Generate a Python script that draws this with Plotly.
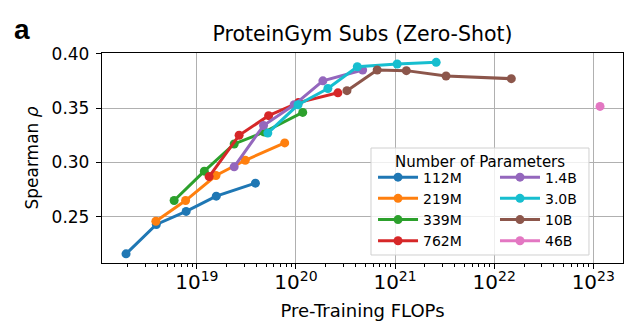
import plotly.graph_objects as go

# Pre-training compute (FLOPs) and zero-shot Spearman rho per model size
flops_112m = [1.93e18, 3.9e18, 7.8e18, 1.57e19, 3.9e19]
rho_112m = [0.216, 0.243, 0.255, 0.269, 0.281]

flops_219m = [3.86e18, 7.7e18, 1.56e19, 3.08e19, 7.7e19]
rho_219m = [0.246, 0.265, 0.288, 0.302, 0.318]

flops_339m = [5.9e18, 1.19e19, 2.38e19, 4.8e19, 1.17e20]
rho_339m = [0.265, 0.292, 0.317, 0.328, 0.346]

flops_762m = [1.33e19, 2.67e19, 5.3e19, 1.06e20, 2.65e20]
rho_762m = [0.287, 0.325, 0.343, 0.355, 0.364]

flops_1_4b = [2.38e19, 4.71e19, 9.6e19, 1.87e20, 4.71e20]
rho_1_4b = [0.296, 0.334, 0.353, 0.375, 0.385]

flops_3_0b = [5.2e19, 1.05e20, 2.1e20, 4.16e20, 1.05e21, 2.6e21]
rho_3_0b = [0.327, 0.353, 0.368, 0.388, 0.3905, 0.392]

flops_10b = [3.27e20, 6.6e20, 1.3e21, 3.27e21, 1.49e22]
rho_10b = [0.366, 0.385, 0.3844, 0.3795, 0.377]

flops_46b = [1.17e23]
rho_46b = [0.3515]

size_labels = ["112M", "219M", "339M", "762M", "1.4B", "3.0B", "10B", "46B"]
size_colors = ["#1f77b4", "#ff7f0e", "#2ca02c", "#d62728",
               "#9467bd", "#17becf", "#8c564b", "#e377c2"]
series = [
    (flops_112m, rho_112m), (flops_219m, rho_219m),
    (flops_339m, rho_339m), (flops_762m, rho_762m),
    (flops_1_4b, rho_1_4b), (flops_3_0b, rho_3_0b),
    (flops_10b, rho_10b), (flops_46b, rho_46b),
]

FONT = "DejaVu Sans"

fig = go.Figure()
for i, ((xs, ys), name, color) in enumerate(zip(series, size_labels, size_colors)):
    fig.add_trace(go.Scatter(
        x=xs, y=ys, name=name, mode="lines+markers",
        line=dict(color=color, width=3),
        marker=dict(color=color, size=9),
        legend="legend" if i < 4 else "legend2",
    ))

legend_style = dict(
    bgcolor="rgba(0,0,0,0)", borderwidth=0,
    font=dict(family=FONT, size=14, color="black"),
    xanchor="left", yanchor="top", itemwidth=40,
    tracegroupgap=0,
)

fig.update_layout(
    width=642, height=330,
    margin=dict(l=102, r=19, t=53, b=67, autoexpand=False),
    paper_bgcolor="white", plot_bgcolor="white",
    font=dict(family=FONT, color="black"),
    title=dict(
        text="ProteinGym Subs (Zero-Shot)",
        font=dict(family=FONT, size=20.5, color="black"),
        x=0.5, xref="paper", xanchor="center",
        y=1 - 34 / 330, yref="container", yanchor="middle",
    ),
    legend=dict(x=0.5202, y=0.483, **legend_style),
    legend2=dict(x=0.7543, y=0.483, **legend_style),
    xaxis=dict(
        type="log", range=[18.043, 23.30], automargin=False,
        dtick=1, exponentformat="power", showexponent="all",
        showgrid=True, gridcolor="#b0b0b0", gridwidth=1,
        showline=True, linecolor="black", linewidth=1.3, mirror=True,
        ticks="outside", ticklen=5, tickwidth=1, tickcolor="black",
        ticklabelstandoff=-3,
        minor=dict(ticks="outside", ticklen=3, tickwidth=1,
                   tickcolor="black", dtick="D1", showgrid=False),
        tickfont=dict(family=FONT, size=16, color="black"),
        title=dict(text="Pre-Training FLOPs", standoff=11,
                   font=dict(family=FONT, size=18, color="black")),
        zeroline=False,
    ),
    yaxis=dict(
        range=[0.2076, 0.4006], automargin=False,
        tickvals=[0.25, 0.30, 0.35, 0.40], tickformat=".2f",
        showgrid=True, gridcolor="#b0b0b0", gridwidth=1,
        showline=True, linecolor="black", linewidth=1.3, mirror=True,
        ticks="outside", ticklen=5, tickwidth=1, tickcolor="black",
        ticklabelstandoff=3,
        tickfont=dict(family=FONT, size=17, color="black"),
        title=dict(text="Spearman <i>ρ</i>", standoff=8,
                   font=dict(family=FONT, size=17, color="black")),
        zeroline=False,
    ),
    showlegend=True,
)

# Legend frame spanning both legend columns
fig.add_shape(
    type="rect", xref="paper", yref="paper",
    x0=0.5163, x1=0.9347, y0=0.0381, y1=0.5476,
    line=dict(color="#d0d0d0", width=1),
    fillcolor="rgba(255,255,255,0.8)", layer="above",
)

fig.add_annotation(
    text="Number of Parameters", xref="paper", yref="paper",
    x=0.7255, y=0.4824, xanchor="center", yanchor="middle",
    showarrow=False, font=dict(family=FONT, size=15, color="black"),
)

# Panel letter
fig.add_annotation(
    text="<b>a</b>", xref="paper", yref="paper",
    x=-0.1536, y=1.112, xanchor="center", yanchor="middle",
    showarrow=False, font=dict(family="Liberation Sans", size=28, color="black"),
)

fig.write_html("out.html")
